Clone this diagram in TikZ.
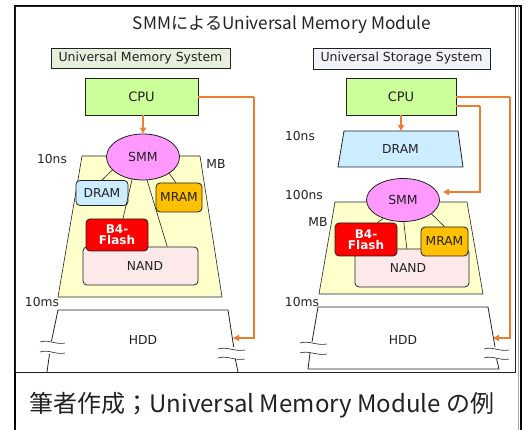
\documentclass[tikz,border=0pt]{standalone}
\usepackage{fontspec}
\setmainfont{DejaVu Sans}
\newfontfamily\jpfont{Noto Sans CJK JP}
\usetikzlibrary{shapes.geometric,arrows.meta}

\definecolor{txt}{HTML}{222222}
\definecolor{cpufill}{HTML}{CCFF99}
\definecolor{smmfill}{HTML}{FF99FF}
\definecolor{mbfill}{HTML}{FFFFCC}
\definecolor{dramfill}{HTML}{CCECFF}
\definecolor{mramfill}{HTML}{FFC000}
\definecolor{flashfill}{HTML}{FF0000}
\definecolor{nandfill}{HTML}{FDE9E9}
\definecolor{umsfill}{HTML}{E6F0DC}
\definecolor{ussfill}{HTML}{F0F3F7}
\definecolor{link}{HTML}{ED7D31}

\tikzset{
  lbl/.style={font=\fontsize{12.5}{14}\selectfont, text=txt},
  tag/.style={lbl, draw=txt, line width=0.7pt, minimum width=#1, minimum height=20pt, inner sep=0pt},
  cpubox/.style={draw=txt, line width=0.8pt, fill=cpufill, minimum height=37pt, minimum width=#1,
                 font=\fontsize{13}{15}\selectfont, text=txt},
  smmnode/.style={ellipse, draw=txt, line width=0.8pt, fill=smmfill, minimum width=73pt, minimum height=#1,
                  inner sep=0pt, font=\fontsize{12.5}{14}\selectfont, text=txt},
  mem/.style={draw=txt, line width=0.8pt, rounded corners=4pt, inner sep=0pt,
              font=\fontsize{12.3}{14}\selectfont, text=txt},
  flash/.style={mem, fill=flashfill, text=white, font=\bfseries\fontsize{12}{13}\selectfont,
                align=center, minimum width=62pt},
  mbzone/.style={fill=mbfill, draw=txt, line width=0.6pt},
  edge/.style={draw=txt, line width=0.6pt},
  oarrow/.style={draw=link, line width=1.5pt, -{Triangle[length=6pt,width=6pt]}},
  oline/.style={draw=link, line width=1.5pt},
  hddside/.style={draw=txt, line width=0.8pt},
  brk/.style={draw=txt, line width=0.6pt},
  tlabel/.style={font=\fontsize{12.3}{14}\selectfont, text=txt},
}

\begin{document}
\begin{tikzpicture}[x=1pt,y=-1pt]
\useasboundingbox (0,0) rectangle (527,430);
\fill[white] (0,0) rectangle (527,430);

% outer frame and the inner panel frame
\draw[line width=2pt, black] (15,431) -- (15,6) -- (521,6) -- (521,431);
\draw[line width=0.8pt, txt] (15,6) rectangle (515,372);
\draw[line width=0.5pt, gray!70] (518,6) -- (518,431);

% title
\node[font=\jpfont\fontsize{17.2}{19}\selectfont, text=txt] (title) at (282,25) {SMMによるUniversal Memory Module};

% ================= left: Universal Memory System =================
\node[tag=179pt, fill=umsfill] (umsL) at (140.5,58) {Universal Memory System};
\node[cpubox=113pt] (cpuL) at (141.5,96.5) {CPU};

% memory board zone
\path[mbzone] (82,156) -- (200,156) -- (222,297) -- (58,297) -- cycle;

\node[smmnode=46pt] (smmL) at (143,157) {SMM};
\node[mem, fill=dramfill, minimum width=52pt, minimum height=25pt] (dramL) at (102,193) {DRAM};
\node[mem, fill=mramfill, minimum width=46pt, minimum height=29pt] (mramL) at (179,197.5) {MRAM};
\node[mem, fill=nandfill, minimum width=115pt, minimum height=38pt] (nandL) at (140.5,266) {\hspace*{9pt}NAND};
\node[flash, minimum height=32pt] (b4L) at (117,235) {B4-\\[-2pt]Flash};

\draw[edge] (smmL.203) -- (dramL.north);
\draw[edge] (smmL.244) -- (b4L.70);
\draw[edge] (smmL.280) -- (nandL.36);
\draw[edge] (smmL.328) -- (mramL.102);

\node[tlabel] (nsL) at (52,159) {10ns};
\node[tlabel] (mbL) at (216,164) {MB};
\node[tlabel] (msL) at (42,302) {10ms};

% hard disk, broken sides
\draw[hddside] (47,372) -- (49.5,354);
\draw[hddside] (51.5,341) -- (58,310) -- (228,310) -- (233.7,347);
\draw[hddside] (235.3,359) -- (238,372);
\draw[brk] (40,342) .. controls (48,339) and (56,345) .. (65,343);
\draw[brk] (40,352) .. controls (48,349) and (56,355) .. (65,353);
\draw[brk] (218,349) .. controls (226,346) and (235,352) .. (245,350);
\draw[brk] (218,358) .. controls (226,355) and (235,361) .. (245,359);
\node[tlabel] (hddL) at (143,340) {HDD};
\coordinate (hddLin) at (233,338);
\coordinate (busL) at (254,97);

% connectors
\draw[oarrow] (smmL.north |- cpuL.south) -- (smmL.north);
\draw[oline] (cpuL.east |- busL) -- (busL);
\draw[oarrow] (busL) |- (hddLin);

% ================= right: Universal Storage System =================
\node[tag=177pt, fill=ussfill, minimum height=21pt] (ussR) at (401.5,58.5) {Universal Storage System};
\node[cpubox=110pt] (cpuR) at (401,96.5) {CPU};

% DRAM cache tier
\path[draw=txt, line width=0.8pt, fill=dramfill] (344,131) -- (458,131) -- (463,167) -- (338,167) -- cycle;
\node[tlabel, minimum width=110pt, minimum height=36pt] (dramR) at (400.5,149) {DRAM};

% memory board zone
\path[mbzone] (335,202) -- (467,202) -- (483,294) -- (319,294) -- cycle;

\node[smmnode=43pt] (smmR) at (403,200) {SMM};
\node[mem, fill=nandfill, minimum width=114pt, minimum height=38pt] (nandR) at (412,268) {\hspace*{-8pt}NAND};
\node[flash, minimum height=33pt] (b4R) at (366,239.5) {B4-\\[-2pt]Flash};
\node[mem, fill=mramfill, minimum width=47pt, minimum height=29pt] (mramR) at (444.5,241.5) {MRAM};

\draw[edge] (smmR.223) -- (b4R.56);
\draw[edge] (smmR.272) -- (nandR.105);
\draw[edge] (smmR.334) -- (mramR.north);

\node[tlabel] (nsR) at (300,136) {10ns};
\node[tlabel] (nsR2) at (304,195) {100ns};
\node[tlabel] (mbR) at (318,222) {MB};
\node[tlabel] (msR) at (302,302) {10ms};

% hard disk, broken sides
\draw[hddside] (308,369) -- (310,353);
\draw[hddside] (312,342) -- (318,307) -- (488,307) -- (495,347);
\draw[hddside] (496.6,359) -- (499,369) -- (308,369);
\draw[brk] (300,343) .. controls (308,340) and (317,346) .. (327,344);
\draw[brk] (300,353) .. controls (308,350) and (317,356) .. (327,354);
\draw[brk] (484,349) .. controls (492,346) and (500,352) .. (509,350);
\draw[brk] (484,358) .. controls (492,355) and (500,361) .. (509,359);
\node[tlabel] (hddR) at (403,340) {HDD};
\coordinate (hddRin) at (493,338);
\coordinate (busR) at (510,97);
\coordinate (busR2) at (480,106);
\coordinate (smmRin) at (443,192);

% connectors
\draw[oarrow] (cpuR.south) -- (cpuR.south |- dramR.north);
\draw[oline] (cpuR.east |- busR) -- (busR);
\draw[oarrow] (busR) |- (hddRin);
\draw[oline] (cpuR.east |- busR2) -- (busR2);
\draw[oarrow] (busR2) |- (smmRin);

% caption
\node[font=\jpfont\fontsize{24}{26}\selectfont, text=txt] (caption) at (262,405) {筆者作成；Universal Memory Module の例};
\end{tikzpicture}
\end{document}
